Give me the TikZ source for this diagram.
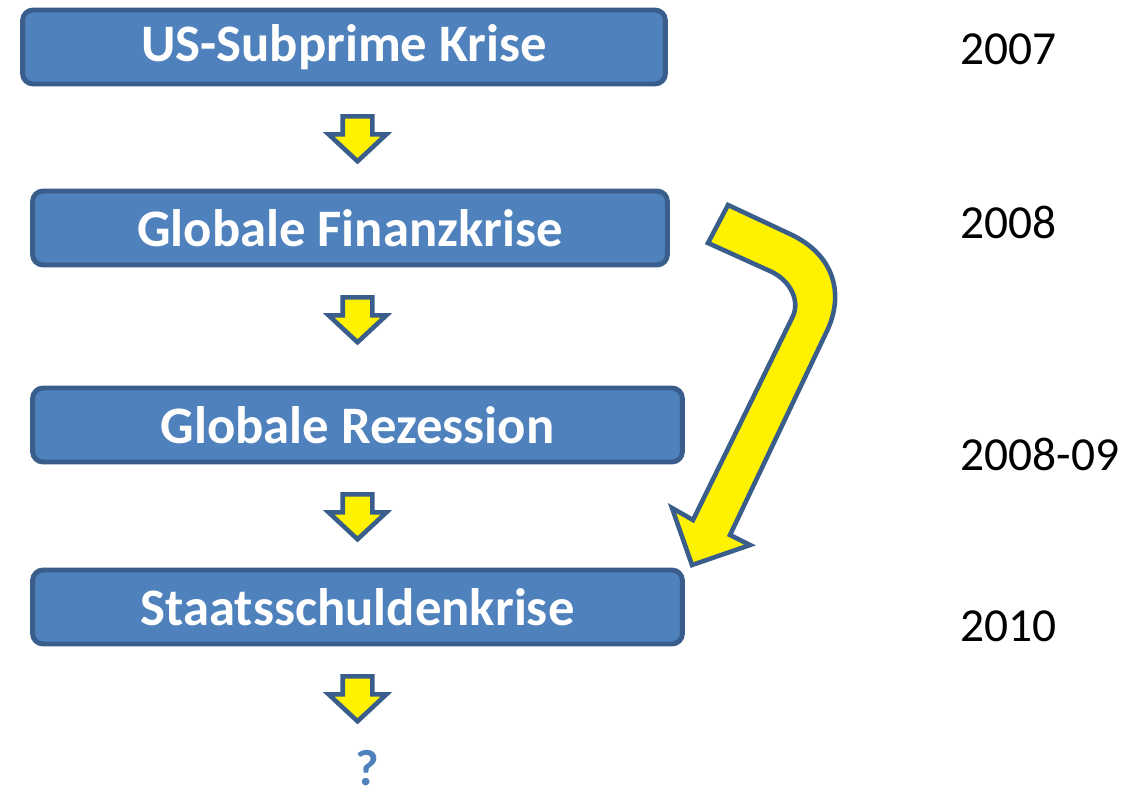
\documentclass[tikz,border=0pt]{standalone}
\usepackage{fontspec}
\setmainfont{Carlito}
\usetikzlibrary{shapes.arrows, positioning}
\definecolor{boxblue}{HTML}{4F81BD}
\definecolor{edgeblue}{HTML}{3A5E8C}
\tikzset{
  krise/.style={rectangle, rounded corners=6pt, draw=edgeblue, line width=2.8pt, fill=boxblue, text=white, font=\fontsize{30}{34}\selectfont\bfseries, minimum height=1.48cm, inner sep=0pt},
  pfeil/.style={single arrow, shape border rotate=270, draw=edgeblue, fill=yellow, line width=2.6pt, minimum height=0.9cm, minimum width=1.08cm, single arrow head extend=0.28cm, single arrow tip angle=94, inner sep=0.25cm, anchor=tail},
  jahr/.style={anchor=west, inner sep=0pt, font=\fontsize{27}{30}\selectfont},
  bogen/.style={draw=edgeblue, fill=yellow, line width=2.6pt, line join=miter}
}

\begin{document}
\begin{tikzpicture}[x=0.02cm, y=-0.02cm]
    \useasboundingbox (0,0) rectangle (1124,795);

    % Krisen
    \node (subprime) [krise, minimum width=12.86cm] at (344,47) {US-Subprime Krise};
    \node (finanz) [krise, minimum width=12.7cm] at (350,228) {Globale Finanzkrise};
    \node (rezession) [krise, minimum width=13cm] at (357.5,425) {Globale Rezession};
    \node (schulden) [krise, minimum width=13cm] at (357.5,607) {Staatsschuldenkrise};
    \node (frage) [inner sep=0pt, font=\fontsize{29}{32}\selectfont\bfseries, text=boxblue] at (367,768) {?};

    % Pfeile
    \node (p1) [pfeil] at (357.5,114) {};
    \node (p2) [pfeil] at (357.5,295) {};
    \node (p3) [pfeil] at (357.5,492) {};
    \node (p4) [pfeil] at (357.5,674) {};

    % Jahre
    \node (j2007) [jahr] at (960,49) {2007};
    \node (j2008) [jahr] at (960,222) {2008};
    \node (j2009) [jahr] at (960,454) {2008-09};
    \node (j2010) [jahr] at (960,626) {2010};

    % Bogenpfeil
    \draw [bogen] (728,205) -- (790,234) .. controls (835,255) and (845,295) .. (826,333)
        -- (730,535) -- (750,545) -- (692,565) -- (672,508) -- (693,520) -- (793,316)
        .. controls (800,300) and (790,281) .. (772,272) -- (708,243) -- cycle;
\end{tikzpicture}
\end{document}
